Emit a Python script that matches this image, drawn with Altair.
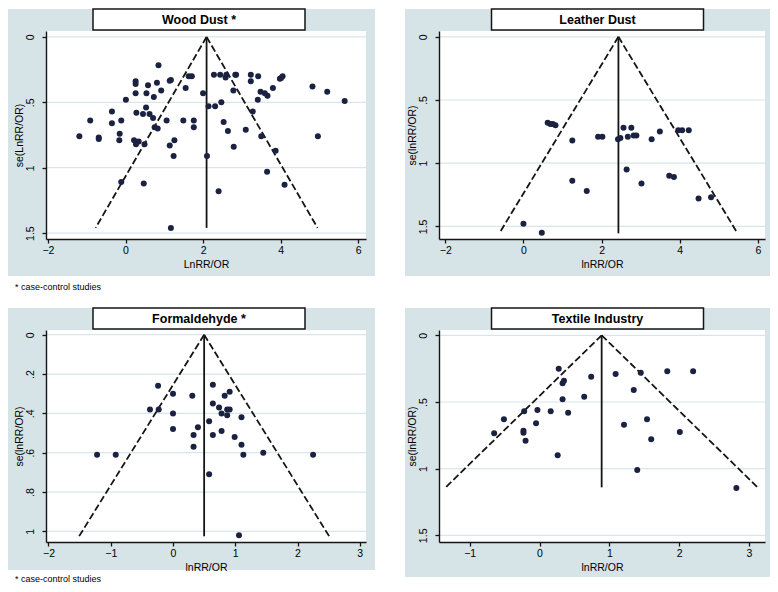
import altair as alt
import pandas as pd

# ---------------- data ----------------
titles = ["Wood Dust *", "Leather Dust", "Formaldehyde *", "Textile Industry"]
x_titles = ["LnRR/OR", "lnRR/OR", "lnRR/OR", "lnRR/OR"]
y_titles = ["se(LnRR/OR)", "se(lnRR/OR)", "se(lnRR/OR)", "se(lnRR/OR)"]
footnote = "* case-control studies"

wood_x = [0.85, 0.26, 0.26, 0.58, 0.81, 1.17, 1.14, 1.63, 1.71, 2.28,
          2.44, 2.60, 2.58, 2.83, 2.85, 3.23, 3.42, 3.23, 3.98, 4.05,
          4.01, 3.80, 3.48, 3.59, 3.66, 3.41, 4.82, 5.20, 5.65, 4.96,
          2.78, 2.47, 2.14, 2.31, 2.00, 1.55, 0.92, 0.73, 0.54, 0.26,
          0.01, 0.53, -0.35, 0.28, 0.45, 0.62, 0.71, -0.91, -0.11, -0.35,
          1.06, 1.49, 1.76, 1.76, 0.75, 0.83, 2.53, 2.64, 3.10, 3.28,
          -1.19, -0.69, -0.69, -0.15, -0.16, 0.22, 0.34, 0.27, 0.49, 1.26,
          1.14, 1.24, 2.10, 2.79, 3.50, 3.87, 3.65, -0.11, 0.47, 4.10,
          2.40, 1.17]
wood_se = [0.216, 0.34, 0.36, 0.37, 0.35, 0.33, 0.335, 0.30, 0.30, 0.29,
           0.29, 0.29, 0.31, 0.29, 0.29, 0.29, 0.30, 0.34, 0.32, 0.30,
           0.315, 0.39, 0.42, 0.43, 0.45, 0.48, 0.38, 0.42, 0.49, 0.76,
           0.41, 0.50, 0.53, 0.53, 0.43, 0.39, 0.41, 0.46, 0.43, 0.43,
           0.48, 0.54, 0.57, 0.58, 0.59, 0.59, 0.62, 0.64, 0.64, 0.66,
           0.64, 0.64, 0.64, 0.69, 0.69, 0.70, 0.65, 0.72, 0.71, 0.57,
           0.76, 0.77, 0.78, 0.74, 0.79, 0.79, 0.80, 0.82, 0.82, 0.79,
           0.83, 0.91, 0.91, 0.84, 0.76, 0.87, 1.03, 1.11, 1.12, 1.13,
           1.18, 1.46]

leather_x = [0.62, 0.69, 0.75, 0.82, 1.25, 1.91, 2.02, 2.42, 2.48, 2.56,
             2.76, 2.67, 2.82, 2.89, 3.28, 3.49, 3.96, 4.06, 4.23, 2.64,
             1.25, 1.62, 3.02, 3.73, 3.85, 4.48, 4.80, 0.00, 0.47]
leather_se = [0.68, 0.69, 0.69, 0.70, 0.82, 0.79, 0.79, 0.81, 0.80, 0.72,
              0.72, 0.79, 0.78, 0.78, 0.81, 0.75, 0.74, 0.74, 0.74, 1.05,
              1.14, 1.22, 1.16, 1.10, 1.11, 1.28, 1.27, 1.48, 1.55]

formal_x = [-0.24, 0.00, 0.31, 0.64, 0.83, 0.91, 0.64, 0.74, 0.87, 0.91,
            0.78, 0.87, 1.10, -0.37, -0.23, 0.00, 0.00, 0.40, 0.58, 0.33,
            0.64, 0.78, 0.99, 0.33, 1.10, 1.13, 1.45, 2.25, -1.22, -0.92,
            0.58, 1.06]
formal_se = [0.26, 0.30, 0.31, 0.255, 0.31, 0.29, 0.35, 0.37, 0.38, 0.38,
             0.40, 0.41, 0.42, 0.38, 0.38, 0.40, 0.48, 0.47, 0.44, 0.51,
             0.51, 0.49, 0.52, 0.57, 0.56, 0.61, 0.60, 0.61, 0.61, 0.61,
             0.71, 1.02]

textile_x = [0.275, 0.74, 0.35, 0.33, 0.33, 0.64, 0.41, 0.16, -0.03, -0.22,
             -0.51, -0.05, -0.65, -0.23, -0.23, -0.20, 0.26, 1.09, 1.45, 1.83,
             2.20, 1.35, 1.21, 1.54, 2.01, 1.60, 1.40, 2.82]
textile_se = [0.25, 0.31, 0.34, 0.36, 0.48, 0.46, 0.58, 0.57, 0.56, 0.57,
              0.63, 0.66, 0.735, 0.715, 0.73, 0.79, 0.90, 0.29, 0.28, 0.27,
              0.27, 0.41, 0.67, 0.63, 0.725, 0.78, 1.01, 1.145]

pooled = [2.09, 2.43, 0.50, 0.89]        # pooled estimate (funnel apex)
se_max = [1.46, 1.555, 1.025, 1.14]      # funnel depth
z_crit = 1.96

x_ticks = [[-2, 0, 2, 4, 6], [-2, 0, 2, 4, 6], [-2, -1, 0, 1, 2, 3], [-1, 0, 1, 2, 3]]
y_ticks = [[0, 0.5, 1, 1.5], [0, 0.5, 1, 1.5], [0, 0.2, 0.4, 0.6, 0.8, 1], [0, 0.5, 1, 1.5]]
x_domains = [[-2.05, 6.2], [-2.16, 6.18], [-2.04, 3.1], [-1.44, 3.23]]
y_domains = [[-0.045, 1.545], [-0.046, 1.60], [-0.024, 1.054], [-0.04, 1.55]]

# ---------------- styles ----------------
FONT = "Liberation Sans"
GRAY = "#D6E3E7"
GRID = "#D8E6EB"
DOT = "#1B2241"
INK = "#151515"


def panel(i, xs, ses, W, H, L, R, T, B, box_cx, note_y=None):
    df = pd.DataFrame({"x": xs, "se": ses})
    one = alt.Data(values=[{}])
    xsc = alt.Scale(domain=x_domains[i], nice=False, zero=False)
    ysc = alt.Scale(domain=y_domains[i], reverse=True, nice=False, zero=False)
    common = dict(grid=False, domainColor=INK, domainWidth=1.4, tickColor=INK,
                  tickWidth=1.3, tickSize=4, labelFont=FONT, titleFont=FONT,
                  labelFontSize=10.5, titleFontSize=10.5, labelColor="black",
                  titleColor="black", titleFontWeight="normal", zindex=1,
                  labelFlush=False, labelOverlap=False)
    xaxis = alt.Axis(values=x_ticks[i], title=x_titles[i], labelPadding=2,
                     titlePadding=4, **common)
    yaxis = alt.Axis(values=y_ticks[i], title=y_titles[i], labelAngle=270,
                     labelAlign="center", labelBaseline="bottom", labelPadding=7,
                     titlePadding=1,
                     labelExpr="datum.value > 0 && datum.value < 1 ? substring(toString(datum.value), 1) : toString(datum.value)",
                     **common)
    X = alt.X("x:Q", scale=xsc, axis=xaxis)
    Y = alt.Y("se:Q", scale=ysc, axis=yaxis)

    bg = alt.Chart(one).mark_rect(fill=GRAY).encode(
        x=alt.value(-L), x2=alt.value(W + R), y=alt.value(-T), y2=alt.value(H + B))
    plot_bg = alt.Chart(one).mark_rect(fill="white").encode(
        x=alt.value(0), x2=alt.value(W), y=alt.value(0), y2=alt.value(H))
    grid = alt.Chart(pd.DataFrame({"se": y_ticks[i]})).mark_rule(
        color=GRID, strokeWidth=1.2).encode(y=Y)

    p, m = pooled[i], se_max[i]
    funnel = pd.DataFrame({"x": [p, p], "se": [0, 0],
                           "x2": [p - z_crit * m, p + z_crit * m], "se2": [m, m]})
    dashed = alt.Chart(funnel).mark_rule(color=INK, strokeWidth=1.8,
                                         strokeDash=[7, 3]).encode(
        x=X, y=Y, x2="x2:Q", y2="se2:Q")
    center = pd.DataFrame({"x": [p], "se": [0], "se2": [m]})
    vline = alt.Chart(center).mark_rule(color=INK, strokeWidth=1.8).encode(
        x=X, y=Y, y2="se2:Q")
    pts = alt.Chart(df).mark_circle(size=36, color=DOT, opacity=1).encode(x=X, y=Y)

    box = alt.Chart(one).mark_rect(fill="white", stroke=INK, strokeWidth=1.5).encode(
        x=alt.value(box_cx - 106), x2=alt.value(box_cx + 106),
        y=alt.value(-T), y2=alt.value(-1))
    box_txt = alt.Chart(one).mark_text(font=FONT, fontSize=12.5, fontWeight="bold",
                                       color="black", align="center",
                                       baseline="middle").encode(
        x=alt.value(box_cx), y=alt.value(-T / 2 - 0.5), text=alt.value(titles[i]))

    layers = [bg, plot_bg, grid, dashed, vline, pts, box, box_txt]
    if note_y is not None:
        note = alt.Chart(one).mark_text(font=FONT, fontSize=9, color="black",
                                        align="left", baseline="middle").encode(
            x=alt.value(-31), y=alt.value(note_y), text=alt.value(footnote))
        layers.append(note)
    return alt.layer(*layers).properties(width=W, height=H)


p1 = panel(0, wood_x, wood_se, W=320, H=208, L=38, R=9, T=22, B=37,
           box_cx=153, note_y=208 + 37 + 11)
p2 = panel(1, leather_x, leather_se, W=326, H=208, L=34, R=5, T=22, B=37,
           box_cx=158.5)
p3 = panel(2, formal_x, formal_se, W=320, H=212, L=38, R=9, T=22, B=28,
           box_cx=153, note_y=212 + 28 + 9)
p4 = panel(3, textile_x, textile_se, W=326, H=212, L=34, R=5, T=22, B=35,
           box_cx=158.5)

chart = alt.vconcat(
    alt.hconcat(p1, p2, spacing=30),
    alt.hconcat(p3, p4, spacing=30),
    spacing=15,
).properties(padding=0, background="white").configure_view(stroke=None)

chart.save("out.html", embed_options={"renderer": "svg", "actions": False})
